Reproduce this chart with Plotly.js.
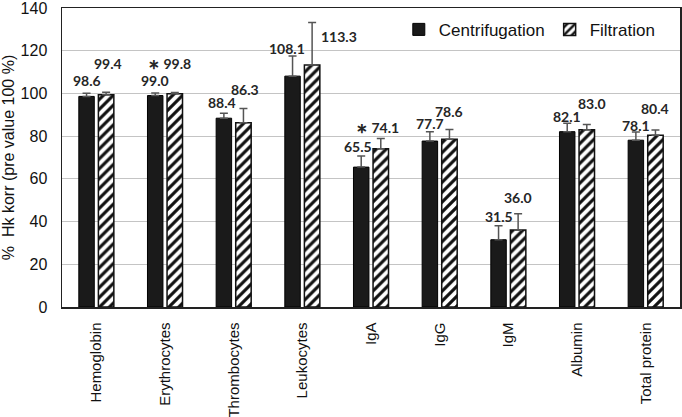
<!DOCTYPE html>
<html>
<head>
<meta charset="utf-8">
<script src="https://cdn.plot.ly/plotly-3.0.1.min.js"></script>
<style>html,body{margin:0;padding:0;background:#fff;}#chart{width:682px;height:417px;}</style>
</head>
<body>
<div id="chart"></div>
<script>
// ---- data ----
const categories = ["Hemoglobin","Erythrocytes","Thrombocytes","Leukocytes","IgA","IgG","IgM","Albumin","Total protein"];
const centrifugation = [98.6, 99.0, 88.4, 108.1, 65.5, 77.7, 31.5, 82.1, 78.1];
const centrifugationErr = [1.5, 1.2, 2.3, 9.4, 5.2, 4.3, 6.5, 3.9, 3.8];
const filtration = [99.4, 99.8, 86.3, 113.3, 74.1, 78.6, 36.0, 83.0, 80.4];
const filtrationErr = [1.2, 0.6, 6.6, 19.9, 4.8, 4.5, 7.7, 2.4, 2.5];
const filtrationSignificant = [false, true, false, false, true, false, false, false, false];
const yTicks = [0, 20, 40, 60, 80, 100, 120, 140];

// ---- label placement (pixels, styling only) ----
const barOffset = 9.8;
const cLabelDx = [0, 0, -2, -6, -3, 0, 0, 0, 0];
const cLabelDy = [13, 12.6, 11, 8, 10, 8, 9, 7, 7];
const fLabelDx = [2, -5.5, 2, 27, -3.5, 0, 0, 5, 0];
const fLabelDy = [29, 29, 19, -14, 11, 18, 16, 21, 21];

const traces = [
  {
    type: 'bar', name: 'Centrifugation', x: categories, y: centrifugation,
    marker: {color: '#1a1a1a', line: {color: '#000', width: 1}},
    error_y: {type: 'data', symmetric: false, array: centrifugationErr, arrayminus: centrifugation.map(() => 0),
              color: '#555', thickness: 1.5, width: 4}
  },
  {
    type: 'bar', name: 'Filtration', x: categories, y: filtration,
    marker: {color: '#fff', line: {color: '#111', width: 1.5},
             pattern: {shape: '/', fgcolor: '#111', bgcolor: '#fff', size: 7, solidity: 0.45}},
    error_y: {type: 'data', symmetric: false, array: filtrationErr, arrayminus: filtration.map(() => 0),
              color: '#555', thickness: 1.5, width: 4}
  }
];

const labelFont = {family: 'Lato, "Liberation Sans", sans-serif', size: 14, color: '#262626', weight: 'bold'};
const annotations = [];
categories.forEach((c, i) => {
  annotations.push({
    x: c, y: centrifugation[i] + centrifugationErr[i], xref: 'x', yref: 'y',
    text: '<b>' + centrifugation[i].toFixed(1) + '</b>', showarrow: false,
    xshift: -barOffset + cLabelDx[i], yshift: cLabelDy[i], yanchor: 'middle', font: labelFont
  });
  annotations.push({
    x: c, y: filtration[i] + filtrationErr[i], xref: 'x', yref: 'y',
    text: '<b>' + (filtrationSignificant[i] ? '∗ ' : '') + filtration[i].toFixed(1) + '</b>', showarrow: false,
    xshift: barOffset + fLabelDx[i], yshift: fLabelDy[i], yanchor: 'middle', font: labelFont
  });
});

const layout = {
  width: 682, height: 417,
  margin: {l: 62, r: 2, t: 8, b: 110},
  paper_bgcolor: '#fff', plot_bgcolor: '#fff',
  font: {family: '"Liberation Sans", Arial, sans-serif', color: '#111'},
  barmode: 'group', bargap: 0.43, bargroupgap: 0.21,
  showlegend: true,
  legend: {orientation: 'h', x: 0.545, xanchor: 'left', y: 0.927, yanchor: 'middle',
           font: {size: 17, color: '#111'}, bgcolor: 'rgba(0,0,0,0)'},
  xaxis: {
    type: 'category', tickangle: -90, tickfont: {size: 15, color: '#111'},
    showline: true, mirror: true, linecolor: '#222', linewidth: 1.5,
    ticks: '', showgrid: false, ticklabelstandoff: 8
  },
  yaxis: {
    range: [0, 140], tickvals: yTicks, ticktext: yTicks.map(String),
    tickfont: {size: 16, color: '#111'}, ticklabeloverflow: 'allow',
    showline: true, mirror: true, linecolor: '#222', linewidth: 1.5,
    showgrid: true, gridcolor: '#c4c4c4', gridwidth: 1.2, zeroline: false,
    ticks: '', ticklabelstandoff: 10,
    title: {text: '%  Hk korr (pre value 100 %)', font: {size: 16, color: '#111'}, standoff: 6}
  },
  annotations: annotations
};

Plotly.newPlot('chart', traces, layout, {staticPlot: true, displayModeBar: false});
</script>
</body>
</html>
